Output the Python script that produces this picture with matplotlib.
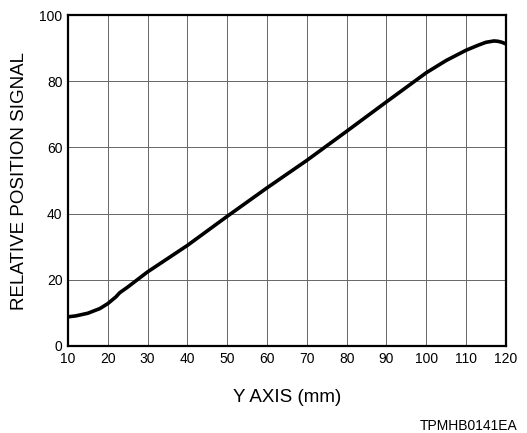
import matplotlib.pyplot as plt

plt.rcParams['font.family'] = ['Liberation Sans', 'DejaVu Sans']

# curve
pos_mm = [10, 12, 15, 18, 20, 22, 23, 25, 30, 40, 50, 60, 70, 80, 90, 100,
          105, 110, 113, 115, 117, 118, 119, 120]
signal = [8.8, 9.1, 9.9, 11.3, 12.8, 14.8, 16.1, 17.8, 22.4, 30.4, 39.2, 47.8,
          56.1, 64.9, 73.8, 82.6, 86.3, 89.4, 90.9, 91.8, 92.2, 92.1, 91.8, 91.3]

x_ticks = list(range(10, 121, 10))
y_ticks = [0, 20, 40, 60, 80, 100]

fig = plt.figure(figsize=(5.27, 4.33), dpi=100)
ax = fig.add_axes([0.129, 0.201, 0.831, 0.764])

ax.plot(pos_mm, signal, color='black', linewidth=2.6, solid_capstyle='butt')

ax.set_xlim(10, 120)
ax.set_ylim(0, 100)
ax.set_xticks(x_ticks)
ax.set_yticks(y_ticks)
ax.grid(True, color='#666666', linewidth=0.7)
ax.tick_params(length=0, labelsize=10, pad=4)
for s in ax.spines.values():
    s.set_linewidth(1.6)

ax.set_xlabel("Y AXIS (mm)", fontsize=13.5, labelpad=17)
ax.set_ylabel("RELATIVE POSITION SIGNAL", fontsize=13.5, labelpad=8)

fig.text(0.982, 0.0, "TPMHB0141EA", ha='right', va='bottom', fontsize=10)

fig.savefig("out.png", dpi=100)
